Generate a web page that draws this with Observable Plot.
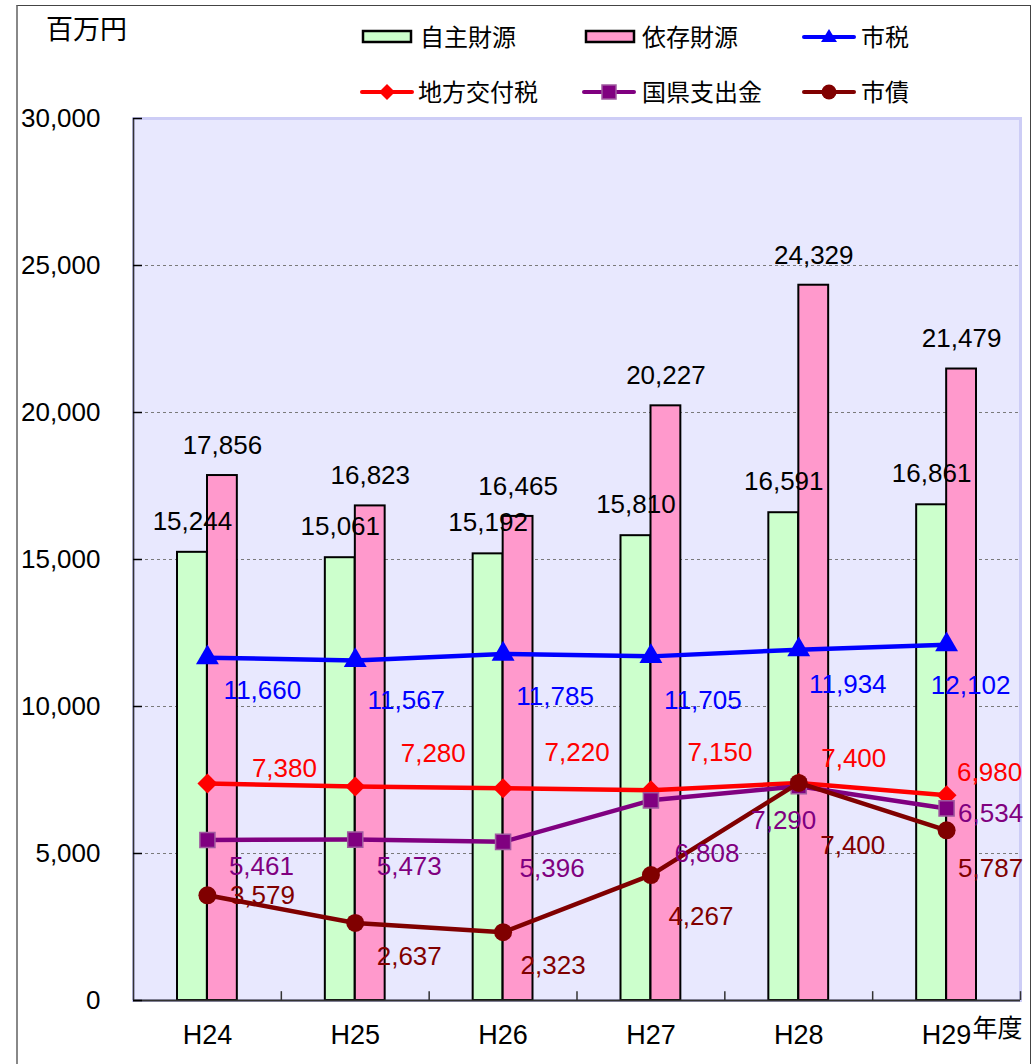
<!DOCTYPE html>
<html><head><meta charset="utf-8">
<script src="https://cdn.jsdelivr.net/npm/d3@7"></script>
<script src="https://cdn.jsdelivr.net/npm/@observablehq/plot@0.6"></script>
<style>
body{margin:0;background:#fff;}
#wrap{position:relative;width:1033px;height:1064px;overflow:hidden;font-family:"Liberation Sans",Arial,"Noto Sans CJK JP",sans-serif;}
#head{position:relative;width:1033px;height:100px;}
.lg{position:absolute;font-family:"Noto Sans CJK JP",sans-serif;font-size:24px;line-height:24px;color:#000;white-space:nowrap;}
.sw{position:absolute;}
#border{position:absolute;left:16px;top:5px;width:1012px;height:1080px;border:1px solid #444;border-left:2px solid #888;pointer-events:none;}
</style></head>
<body>
<svg width="0" height="0" style="position:absolute"><defs>
<pattern id="bgpat" width="2" height="2" patternUnits="userSpaceOnUse">
<rect width="2" height="2" fill="#fcfcff"/><rect width="1" height="1" fill="#d3d3fd"/><rect x="1" y="1" width="1" height="1" fill="#d3d3fd"/>
</pattern></defs></svg>
<div id="wrap">
<div id="head"></div>
<div id="chart"></div>
<div id="border"></div>
</div>
<script>
const categories = ["H24","H25","H26","H27","H28","H29"];
const jishuZaigen = [15244, 15061, 15192, 15810, 16591, 16861];
const izonZaigen  = [17856, 16823, 16465, 20227, 24329, 21479];
const shizei      = [11660, 11567, 11785, 11705, 11934, 12102];
const chihoKofuzei= [7380, 7280, 7220, 7150, 7400, 6980];
const kokkenShishutsu = [5461, 5473, 5396, 6808, 7290, 6534];
const shisai      = [3579, 2637, 2323, 4267, 7400, 5787];
const yTicks = [0, 5000, 10000, 15000, 20000, 25000, 30000];
const seriesNames = ["自主財源","依存財源","市税","地方交付税","国県支出金","市債"];

const fmt = d3.format(",");
const W = 1033, H = 964, ML = 133, MR = 13, MT = 18, MB = 64;
const bw = (W - ML - MR) / categories.length;

const rows = categories.map((c, i) => ({c, jishu: jishuZaigen[i], izon: izonZaigen[i]}));
const lineSeries = [
  {vals: shizei, color: "#0000ff", symbol: "triangle", r: 8.5,
   nudge: [[55,33],[51,40],[52,43],[52,44],[49,35],[24,41]]},
  {vals: chihoKofuzei, color: "#ff0000", symbol: "diamond2", r: 9,
   nudge: [[77,-15],[78,-33],[74,-36],[69,-38],[55,-24],[43,-23]]},
  {vals: kokkenShishutsu, color: "#800080", symbol: "square", r: 8.5,
   nudge: [[54,27],[54,27],[49,27],[56,53],[-15,34],[44,5]]},
  {vals: shisai, color: "#800000", symbol: "circle", r: 9,
   nudge: [[55,0],[54,34],[50,33],[50,42],[54,63],[44,38]]}
];

const marks = [
  Plot.frame({fill: "url(#bgpat)", stroke: "#cdcdf6", strokeWidth: 3}),
  Plot.ruleY(yTicks.filter(d => d > 0 && d < 30000), {stroke: "#7a7a7a", strokeDasharray: "3,3", strokeWidth: 1}),
  Plot.barY(rows, {x: "c", y: "jishu", fill: "#ccffcc", stroke: "#000", strokeWidth: 2, insetLeft: 44, insetRight: 74}),
  Plot.barY(rows, {x: "c", y: "izon", fill: "#ff99cc", stroke: "#000", strokeWidth: 2, insetLeft: 74, insetRight: 44}),
  Plot.ruleY([0], {stroke: "#333", strokeWidth: 2}),
  Plot.ruleX([categories[0]], {dx: -bw/2, y1: 0, y2: 30000, stroke: "#333", strokeWidth: 1.5}),
  Plot.ruleX(categories, {dx: bw/2, y1: 0, y2: 300, stroke: "#333", strokeWidth: 1.5}),
  Plot.tickY(yTicks, {y: d => d, insetRight: W - ML - MR - 9, stroke: "#000", strokeWidth: 1.5}),
  Plot.axisY({ticks: yTicks, tickSize: 0, tickPadding: 33, tickFormat: fmt, label: null, fontSize: 26}),
  Plot.axisX({tickSize: 0, tickPadding: 24, label: null, fontSize: 27}),
  Plot.text(["年度"], {x: () => categories[categories.length - 1], frameAnchor: "bottom", dx: 51, dy: 36,
    fontSize: 25, fontFamily: "Noto Sans CJK JP, sans-serif", fill: "#000"})
];
for (const s of lineSeries) {
  const data = categories.map((c, i) => ({c, v: s.vals[i]}));
  marks.push(Plot.line(data, {x: "c", y: "v", stroke: s.color, strokeWidth: 4.5}));
  marks.push(Plot.dot(data, {x: "c", y: "v", symbol: s.symbol, r: s.r, fill: s.color,
    stroke: s.symbol === "square" ? "#a05aa0" : "none", strokeWidth: 1.5}));
}
marks.push(Plot.text(rows, {x: "c", y: "jishu", text: d => fmt(d.jishu), dx: -15, dy: -31, fontSize: 26, fill: "#000"}));
marks.push(Plot.text(rows, {x: "c", y: "izon", text: d => fmt(d.izon), dx: 15, dy: -30, fontSize: 26, fill: "#000"}));
for (const s of lineSeries) {
  categories.forEach((c, i) => {
    marks.push(Plot.text([{c, v: s.vals[i]}], {x: "c", y: "v", text: d => fmt(d.v),
      dx: s.nudge[i][0], dy: s.nudge[i][1], fill: s.color, fontSize: 26}));
  });
}

const chart = Plot.plot({
  width: W, height: H, marginLeft: ML, marginRight: MR, marginTop: MT, marginBottom: MB,
  x: {domain: categories, padding: 0, round: false, axis: null},
  y: {domain: [0, 30000], axis: null},
  style: {fontFamily: "'Liberation Sans', Arial, 'Noto Sans CJK JP', sans-serif", fontSize: "26px", background: "transparent", color: "#000", overflow: "visible"},
  marks
});
document.getElementById("chart").appendChild(chart);

// Header: unit title and legend
const head = document.getElementById("head");
function addText(txt, left, cy, size) {
  const el = document.createElement("div");
  el.className = "lg"; el.textContent = txt;
  el.style.left = left + "px"; el.style.top = (cy - size/2 - 1) + "px";
  el.style.fontSize = size + "px"; el.style.lineHeight = size + "px";
  head.appendChild(el);
}
function addSwatch(svgInner, left, cy) {
  const ns = "http://www.w3.org/2000/svg";
  const svg = document.createElementNS(ns, "svg");
  svg.setAttribute("width", 56); svg.setAttribute("height", 24);
  svg.setAttribute("class", "sw");
  svg.style.left = left + "px"; svg.style.top = (cy - 12) + "px";
  svg.innerHTML = svgInner;
  head.appendChild(svg);
}
addText("百万円", 46, 28, 27);
const boxSw = c => `<rect x="2" y="6" width="48" height="11" fill="${c}" stroke="#000" stroke-width="2.5"/>`;
const lineSw = (c, m) => `<line x1="2" y1="12" x2="52" y2="12" stroke="${c}" stroke-width="4" stroke-linecap="round"/>${m}`;
const legendItems = [
  {name: seriesNames[0], sw: boxSw("#ccffcc"), x: 361, tx: 420, cy: 37},
  {name: seriesNames[1], sw: boxSw("#ff99cc"), x: 584, tx: 642, cy: 37},
  {name: seriesNames[2], sw: lineSw("#0000ff", `<path d="M27,4 L35,17 L19,17 Z" fill="#0000ff"/>`), x: 802, tx: 861, cy: 37},
  {name: seriesNames[3], sw: lineSw("#ff0000", `<path d="M27,4 L35,12 L27,20 L19,12 Z" fill="#ff0000"/>`), x: 360, tx: 418, cy: 92},
  {name: seriesNames[4], sw: lineSw("#800080", `<rect x="20" y="5" width="14" height="14" fill="#800080" stroke="#a05aa0" stroke-width="1.5"/>`), x: 582, tx: 642, cy: 92},
  {name: seriesNames[5], sw: lineSw("#800000", `<circle cx="27" cy="12" r="7.5" fill="#800000"/>`), x: 802, tx: 861, cy: 92}
];
for (const it of legendItems) { addSwatch(it.sw, it.x, it.cy); addText(it.name, it.tx, it.cy, 24); }
</script>
</body></html>
